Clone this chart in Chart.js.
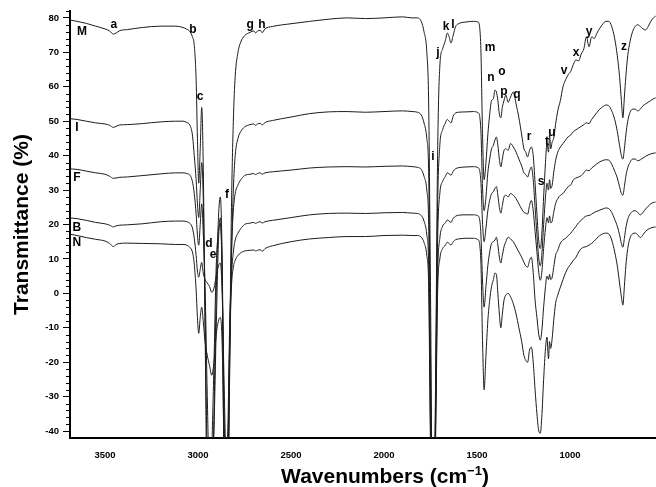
<!DOCTYPE html>
<html>
<head>
<meta charset="utf-8">
<script src="https://cdn.jsdelivr.net/npm/chart.js@4.4.0/dist/chart.umd.min.js"></script>
<style>
  body { margin: 0; background: #fff; }
</style>
</head>
<body>
<canvas id="ir" width="656" height="487"></canvas>
<script>
// wavenumbers (cm-1), shared by every spectrum
const wavenumbers = [
  3700, 3650, 3600, 3550, 3500, 3475, 3455, 3440, 3420, 3380,
  3300, 3200, 3120, 3080, 3060, 3043, 3030, 3020, 3010, 3003,
  2996, 2988, 2980, 2972, 2962, 2950, 2938, 2926, 2914, 2902,
  2890, 2880, 2870, 2860, 2850, 2840, 2830, 2820, 2810, 2800,
  2785, 2770, 2750, 2720, 2700, 2690, 2680, 2665, 2655, 2640,
  2600, 2500, 2400, 2300, 2200, 2100, 2000, 1900, 1850, 1820,
  1800, 1785, 1770, 1760, 1750, 1740, 1730, 1722, 1712, 1700,
  1685, 1670, 1660, 1650, 1640, 1628, 1615, 1600, 1560, 1520,
  1495, 1480, 1470, 1462, 1452, 1442, 1432, 1422, 1412, 1404,
  1396, 1388, 1380, 1372, 1364, 1355, 1345, 1333, 1320, 1305,
  1290, 1275, 1260, 1248, 1238, 1228, 1218, 1208, 1198, 1188,
  1178, 1168, 1160, 1152, 1142, 1132, 1124, 1116, 1110, 1104,
  1096, 1088, 1078, 1066, 1052, 1038, 1024, 1010, 996, 982,
  968, 954, 940, 926, 912, 898, 884, 870, 856, 840,
  824, 808, 792, 776, 760, 746, 734, 724, 716, 708,
  700, 690, 678, 664, 650, 636, 622, 608, 594, 580,
  566, 552, 540
];

// transmittance (%) of each sample
const specM = [
  79.5, 79.0, 78.4, 77.6, 76.8, 76.2, 75.3, 75.6, 76.3, 76.6,
  77.2, 77.6, 77.6, 77.2, 76.7, 76.0, 74.5, 72, 62, 45,
  32, 42, 54, 38, -10, -60, -60, -60, -40, -10,
  15, 22, 5, -50, -60, -60, -20, 25, 50, 63,
  70, 73, 74.8, 75.8, 76.2, 75.6, 76.2, 76.4, 75.7, 76.8,
  77.5, 78.3, 79.0, 79.6, 80.0, 79.8, 80.0, 80.3, 80.0, 80.0,
  79, 76, 70, 55, 0, -60, -60, -20, 40, 66,
  71, 73.5, 75.6, 74.5, 72.7, 75, 77.5, 78.3, 78.8, 79,
  78.8, 72, 45, 33, 38, 46, 52, 56, 56.5, 59,
  58.5, 56, 52, 51, 54, 56, 57.6, 55.5, 57, 58.5,
  55, 51, 46, 42, 41, 39.6, 41.5, 42.5, 40, 32,
  23, 15, 13, 17, 28, 38, 43.6, 41, 46, 42,
  44, 45, 49, 53, 56, 60, 62, 63.5, 64.5, 66.5,
  67.8, 67.5, 69.5, 71, 74.5, 71.6, 74.5, 74, 75.5, 77,
  78.2, 79, 79, 77.5, 74, 69, 63, 56, 51, 57,
  63, 69, 73, 76, 77.5, 78, 77.5, 76.8, 76.5, 77.5,
  79, 80, 80.5
];
const specI = [
  50.8, 50.5, 50.0, 49.5, 49.2, 48.8, 48.2, 48.5, 48.9, 49.0,
  49.3, 49.8, 50.0, 50.0, 49.6, 48.8, 46, 40, 33, 26,
  22, 30, 38, 28, -5, -50, -60, -60, -35, 0,
  22, 28, 10, -40, -60, -60, -25, 10, 30, 40,
  45, 47, 48.3, 49, 49.2, 48.8, 49.2, 49.4, 48.9, 49.6,
  50.2, 51.2, 52.2, 52.7, 52.8, 52.6, 52.8, 53.0, 52.8, 52.6,
  51.8, 49.5, 45, 35, -20, -60, -60, -25, 25, 43,
  47.5, 49.5, 50.5, 50, 49.5, 51.5, 52.4, 52.6, 52.7, 52.8,
  52.5, 48, 30, 24, 28, 35, 39, 42, 43, 44.5,
  45.4, 43, 39, 36.7, 39, 41.5, 42, 41.5, 43.5, 42.5,
  41, 39, 37, 35, 34.5, 33.8, 35.5, 36.7, 33, 25,
  17, 10, 8, 11, 20, 28, 32, 30, 33, 30.5,
  31.5, 35, 38.5, 41, 42.5, 43.5, 44.5, 45.5, 46, 47,
  47.5, 48, 48.5, 49, 49.5, 49.3, 50.5, 51.5, 52.5, 53.5,
  54.2, 54.7, 54.5, 53, 50.5, 47, 43, 40, 39, 42,
  46, 50, 52.5, 53.5, 53.5, 53, 53.5, 54.5, 55, 55.5,
  56, 56.5, 56.8
];
const specF = [
  36.2, 36.0, 35.5, 35.0, 34.6, 34.0, 33.4, 33.5, 33.7, 33.8,
  34.2, 34.7, 35.0, 35.0, 34.8, 34.3, 32.5, 29, 23, 17,
  14, 20, 26, 18, 2, -30, -55, -45, -20, 8,
  18, 20.4, 5, -35, -60, -55, -15, 12, 24, 29,
  31.5, 33, 34.2, 34.6, 34.8, 34.5, 34.8, 35, 34.6, 35,
  35.3, 35.8, 36.4, 36.7, 36.8, 36.7, 36.9, 37, 36.8, 36.6,
  36, 34, 30, 20, -30, -60, -60, -30, 15, 29,
  32.5, 34, 35, 34.7, 34.3, 35.5, 36.2, 36.5, 36.7, 36.8,
  36.5, 33, 20, 15, 19, 24, 27, 29, 29.5, 30.5,
  31, 28.5, 25, 23.3, 25.5, 28, 28.5, 28, 29, 28.5,
  27.5, 26, 24.5, 23.5, 23.3, 23, 25.5, 27, 24, 18,
  12, 6, 3.8, 6, 13, 19, 22, 20.5, 22.5, 20.5,
  21, 23.5, 26, 27.5, 28.5, 29, 30, 31, 31.5, 33,
  33.5, 33.8, 34.2, 35, 35.8, 35.6, 36.4, 37, 37.6, 38.2,
  38.6, 38.8, 38.7, 37.5, 35.5, 33.5, 31, 29, 28.5, 31,
  34, 36.5, 38, 39, 39, 38.5, 38.8, 39.3, 39.8, 40.2,
  40.5, 40.7, 40.8
];
const specB = [
  22.0, 21.7, 21.2, 20.6, 20.2, 19.8, 19.3, 19.6, 19.8, 19.9,
  20.2, 20.8, 21.0, 21.0, 20.8, 20.3, 19, 16, 11, 6.5,
  4.7, 7, 9, 6, 4, 3, 2, 0.3, 1.5, 5,
  8, 8.8, 0, -25, -45, -40, -10, 5, 12, 15.5,
  17.5, 18.8, 20, 20.4, 20.6, 20.3, 20.6, 20.8, 20.4, 20.8,
  21.2, 22, 22.8, 23.2, 23.3, 23.2, 23.4, 23.5, 23.3, 23.2,
  22.6, 21, 17, 8, -40, -60, -60, -35, 5, 16,
  19.5, 20.5, 21.3, 21, 20.6, 21.8, 22.4, 22.7, 22.8, 22.8,
  22.5, 18, 3, -4, 2, 8, 12, 14.5, 15, 15.5,
  16.3, 14, 10.5, 8.8, 11, 13.5, 15, 16.3, 15.8, 15,
  13.5, 12, 10.5, 9, 8, 7.6, 9.5, 10.5, 6, -2,
  -7, -12, -13.6, -11, -4, 2, 5, 4, 5.5, 4,
  4.7, 7.5, 11, 12.5, 14.6, 15.5, 16, 16.8, 17.5, 18.5,
  19.5, 20.5, 21.2, 22, 22.5, 22.6, 23, 23.5, 23.8, 24.2,
  24.5, 24.8, 24.6, 23.5, 21.5, 19.5, 17, 14.5, 13.4, 16,
  19, 21.5, 23, 23.8, 24, 23.5, 22.8, 23.5, 24.5, 25.3,
  26, 26.4, 26.5
];
const specN = [
  17.3, 16.8, 16.2, 15.7, 15.2, 14.5, 13.6, 14.2, 14.5, 14.6,
  14.5, 14.4, 14.2, 14.2, 14.0, 13.3, 12, 8.5, 1, -7,
  -11.6, -7, -4, -8, -14, -18, -21, -23.8, -20, -12,
  -8, -7, -15, -45, -60, -50, -15, 2, 7.6, 9.6,
  11, 11.8, 12.3, 12.5, 12.6, 12.3, 12.5, 12.7, 12.2, 13,
  13.8, 15, 15.8, 16.2, 16.5, 16.5, 16.8, 16.9, 16.8, 16.8,
  16.3, 14.8, 11, 2, -45, -60, -60, -40, 0, 10,
  13, 14, 14.8, 14.5, 14, 15, 15.6, 15.8, 16, 16,
  15.6, 10, -15, -28, -18, -8, -2, 2, 4, 5.9,
  5.5, 0, -6, -10, -6, -2, -0.5, 0, -1, -3,
  -6, -10, -14, -18, -19.5, -20, -16.5, -15.6, -20, -28,
  -35, -40, -40.6, -36, -25, -16, -12.7, -19, -14, -16,
  -13, -8, -3, -0.5, 1.8, 4, 6, 7.5, 8.5, 9.6,
  10.5, 12, 13, 13.4, 13.6, 14, 14.5, 15.2, 16, 16.8,
  17.3, 17.5, 17.3, 15.5, 12, 8, 3, -1, -3.4, 2,
  8, 13, 16, 17.3, 17.5, 17, 16.2, 17, 18, 18.6,
  19, 19.2, 19.3
];

const seriesNames = ['M', 'I', 'F', 'B', 'N'];
const seriesValues = [specM, specI, specF, specB, specN];

const xTicks = [3500, 3000, 2500, 2000, 1500, 1000];
const yTicks = [80, 70, 60, 50, 40, 30, 20, 10, 0, -10, -20, -30, -40];

// band letters and sample names, placed in data units (wavenumber, %T)
const labelText = ['M', 'I', 'F', 'B', 'N', 'a', 'b', 'c', 'd', 'e', 'f', 'g', 'h',
  'i', 'j', 'k', 'l', 'm', 'n', 'o', 'p', 'q', 'r', 's', 't', 'u', 'v', 'x', 'y', 'z'];
const labelWn = [3624, 3651, 3651, 3651, 3651, 3452, 3027, 2989, 2941, 2919, 2844, 2720, 2656,
  1737, 1710, 1667, 1629, 1430, 1425, 1366, 1355, 1285, 1220, 1156, 1124, 1097, 1032, 968, 898, 710];
const labelT = [75.9, 48, 33.5, 19.2, 14.6, 78, 76.5, 57, 14.3, 11.1, 28.8, 78, 78,
  39.6, 69.8, 77.4, 78, 71.3, 62.6, 64.3, 58.5, 57.6, 45.4, 32.3, 44, 46.6, 64.6, 70, 76, 71.6];

const FONT = "'Liberation Sans', Arial, sans-serif";

// minor ticks, curve letters and the x title with its superscript
const decorations = {
  id: 'decorations',
  afterDraw(chart) {
    const { ctx, scales: { x, y } } = chart;
    ctx.save();
    ctx.strokeStyle = '#000';
    ctx.lineWidth = 1;
    for (let v = -38; v <= 82; v += 2) {
      if (v % 10 === 0) continue;
      const py = Math.round(y.getPixelForValue(v)) + 0.5;
      ctx.beginPath();
      ctx.moveTo(y.right - 4, py);
      ctx.lineTo(y.right, py);
      ctx.stroke();
    }

    ctx.fillStyle = '#000';
    ctx.font = 'bold 12px ' + FONT;
    ctx.textAlign = 'center';
    ctx.textBaseline = 'middle';
    labelText.forEach((t, i) => {
      ctx.fillText(t, x.getPixelForValue(labelWn[i]), y.getPixelForValue(labelT[i]));
    });

    // "Wavenumbers (cm-1)"
    const main = 'Wavenumbers (cm';
    const sup = '\u22121';
    const tail = ')';
    ctx.font = 'bold 21px ' + FONT;
    const wMain = ctx.measureText(main).width;
    const wTail = ctx.measureText(tail).width;
    ctx.font = 'bold 13px ' + FONT;
    const wSup = ctx.measureText(sup).width;
    let px = 385 - (wMain + wSup + wTail) / 2;
    const base = 483;
    ctx.textAlign = 'left';
    ctx.textBaseline = 'alphabetic';
    ctx.font = 'bold 21px ' + FONT;
    ctx.fillText(main, px, base);
    px += wMain;
    ctx.font = 'bold 13px ' + FONT;
    ctx.fillText(sup, px, base - 8);
    px += wSup;
    ctx.font = 'bold 21px ' + FONT;
    ctx.fillText(tail, px, base);
    ctx.restore();
  }
};

new Chart(document.getElementById('ir'), {
  type: 'line',
  data: {
    datasets: seriesValues.map((vals, k) => ({
      label: seriesNames[k],
      data: wavenumbers.map((w, i) => ({ x: w, y: vals[i] })),
      borderColor: '#1c1c1c',
      borderWidth: 1,
      pointRadius: 0,
      fill: false,
      cubicInterpolationMode: 'monotone'
    }))
  },
  options: {
    responsive: false,
    animation: false,
    devicePixelRatio: 1,
    layout: { padding: { top: 11, right: 0, bottom: 0, left: 0 } },
    plugins: {
      legend: { display: false },
      tooltip: { enabled: false }
    },
    scales: {
      x: {
        type: 'linear',
        reverse: true,
        min: 538,
        max: 3688,
        afterBuildTicks: (s) => { s.ticks = xTicks.map(v => ({ value: v })); },
        afterFit: (s) => { s.height = 49; },
        grid: { drawOnChartArea: false, drawTicks: true, tickLength: 8, tickColor: 'rgba(0,0,0,0)' },
        border: { display: true, color: '#000', width: 2 },
        ticks: {
          color: '#000',
          padding: 4,
          maxRotation: 0,
          callback: (v) => String(v),
          font: { family: FONT, size: 9.5, weight: 'bold' }
        }
      },
      y: {
        type: 'linear',
        min: -42,
        max: 82,
        afterBuildTicks: (s) => { s.ticks = yTicks.map(v => ({ value: v })); },
        afterFit: (s) => { s.width = 70; },
        grid: { drawOnChartArea: false, drawTicks: true, tickLength: 7, tickColor: '#000', tickWidth: 1 },
        border: { display: true, color: '#000', width: 2 },
        ticks: {
          color: '#000',
          padding: 4,
          callback: (v) => String(v),
          font: { family: FONT, size: 9.5, weight: 'bold' }
        },
        title: {
          display: true,
          text: 'Transmittance (%)',
          color: '#000',
          font: { family: FONT, size: 21, weight: 'bold', lineHeight: 1 },
          padding: { top: 12, bottom: 0 }
        }
      }
    }
  },
  plugins: [decorations]
});
</script>
</body>
</html>
